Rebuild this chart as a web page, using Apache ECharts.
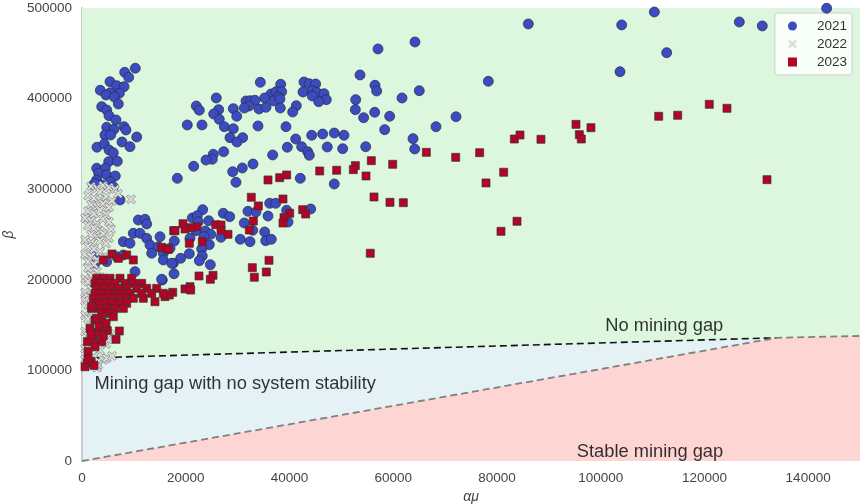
<!DOCTYPE html>
<html><head><meta charset="utf-8">
<script src="https://cdn.jsdelivr.net/npm/echarts@6/dist/echarts.min.js"></script>
<style>html,body{margin:0;padding:0;background:#fff}#c{width:860px;height:504px}</style>
</head><body><div id="c"></div>
<script>
// ---------- data ----------
const xTicks = [0, 20000, 40000, 60000, 80000, 100000, 120000, 140000];
const yTicks = [0, 100000, 200000, 300000, 400000, 500000];
const seriesNames = ['2021', '2022', '2023'];

// 2021 (circles)
const data2021 = [
  [86050,482400],[104050,481300],[110350,495600],[112730,450700],[103730,429700],[126730,484600],[131160,480200],[143570,499700],
  [78340,419100],[64200,462500],[57070,454800],[53600,426100],[56490,414700],[56810,408400],[52770,398800],[52700,387800],
  [54300,378900],[56430,384900],[59320,380500],[61700,400700],[65030,408700],[58360,365700],[68250,369000],[72110,380000],
  [50510,359500],[50260,344700],[54700,346900],[63820,355800],[64150,344400],
  [34380,418000],[38310,415800],[36440,405100],[37400,407600],[38500,407600],[37850,402100],[36950,397400],[38170,399600],
  [35220,400700],[31620,397400],[32450,397700],[33350,398100],[32200,391800],[31300,389600],[34130,388500],[35480,390400],
  [38230,389600],[41320,392200],[40620,385200],[42800,418300],[43820,416400],[45050,416100],[44400,408700],[45250,406900],
  [42610,407300],[44400,402900],[46660,405400],[47100,398800],[45640,396600],[22040,391800],[22620,387100],[25890,400700],
  [26350,387800],[25390,383000],[26470,377100],[29170,388900],[29830,380500],[20300,370900],[23140,370900],[27430,369000],
  [29170,366800],[33930,369800],[39330,369000],[28530,356900],[30980,356900],[29880,352100],[41200,355400],[44290,359500],
  [46400,360900],[48640,362000],[39580,346300],[42350,346900],[43510,341400],[43830,337400],[47290,346600],[36760,337800],
  [27310,341400],[25310,338500],[25120,333000],[23910,332200],[21530,325300],[18380,312000],[29050,319300],[30910,323400],
  [32970,327800],[29690,307600],[42090,312000],[48640,305800],
  [23270,277400],[21270,268200],[22230,270800],[22420,264100],[24430,265200],[27240,273400],[28470,269700],[21980,254200],
  [23770,253900],[24810,250200],[23520,247600],[20820,245800],[24540,238800],[23080,234000],[20690,228800],[23190,226300],
  [22620,221100],[24740,216700],[19030,223700],[17800,242800],[17610,218200],[15680,229300],[17740,206700],[15480,199800],
  [26800,246900],[30520,244700],[32390,242100],[31290,262700],[32000,275600],[33550,274900],[35860,270400],[36190,284400],
  [37340,284400],[32910,254600],[35220,252800],[35420,243200],[36500,244700],[39460,276700],[39720,263800],[44090,278200],
  [10280,433500],[8230,429000],[9000,423500],[5400,418700],[3530,409200],[6690,414300],[8100,413200],[7200,405900],
  [5460,406500],[4630,404000],[6230,401800],[7000,394100],[3800,391100],[4760,387400],[5210,381100],[6560,376400],
  [8100,369000],[8480,365400],[4760,368300],[6170,366100],[4430,359800],[5530,359800],[10550,357600],[7710,352100],
  [9250,346900],[2890,346300],[4300,349900],[5210,343300],[6030,340300],[5150,330400],[6810,330800],[2830,323100],
  [4490,323100],[3220,317600],[4760,315700],[6420,314600],[2830,310200],[5400,308300],[2190,304600],[3800,304600],
  [7330,288100],[2510,306500],[6030,302800],[10860,266000],[12150,266800],[12470,261600],[9890,251300],[11180,251300],
  [12470,245800],[7970,242100],[9250,240300],[13110,238400],[15040,247600],[14710,236500],[16970,234800],[13440,229300],
  [15680,221900],[17290,218200],[2510,218200],[4760,220000],[6690,225500],[10220,209000],[15360,200600],[2830,227400],
  [7970,227400]
];

// 2022 (crosses)
const data2022 = [
  [1740,303000],[2890,301000],[4050,304000],[5210,302000],[6360,300000],[3470,297000],
  [1160,293000],[2310,290000],[3470,288000],[4630,292000],[5780,287000],[1740,283000],[2890,281000],[4050,284000],[5210,280000],[6940,295000],
  [1160,276000],[2310,273000],[3470,277000],[4630,272000],[580,268000],[1740,265000],[2890,262000],[4050,267000],[5210,264000],[1160,260000],
  [2310,257000],[3470,254000],[1740,250000],[2890,247000],[4050,251000],[580,244000],[1740,241000],[3470,243000],[5210,246000],[4630,240000],
  [1160,237000],[2310,234000],[3470,231000],[580,228000],[1740,226000],[2890,222000],[4050,225000],[1160,220000],
  [2310,217000],[1160,213000],[2890,209000],[1740,205000],[580,201000],[3470,203000],
  [1160,198000],[2310,195000],[1740,190000],[580,186000],[1160,181000],
  [580,177000],[1160,172000],[1740,166000],[580,161000],
  [1160,157000],[2310,153000],[1740,148000],[580,143000],[4630,156000],
  [1160,138000],[2890,135000],[4630,129000],[5070,134000],[1740,127000],[580,124000],[3470,122000],
  [1160,118000],[2310,115000],[4110,111500],[4760,113400],[3140,106000],[1740,109000],[2890,103000],[580,112000],[5780,116000],
  [9450,288900],[5590,255800],[6360,140000]
];

// 2023 (squares)
const data2023 = [
  [66390,340700],[72050,335200],[76670,340300],[83350,355400],[84450,359800],[52700,326000],[52310,321600],[55780,331500],
  [59900,327500],[54760,314600],[81300,318700],[77890,306900],[56300,291400],[59380,285500],[61950,285100],[55580,229300],
  [80780,253500],[83870,264600],[95240,371600],[98130,367900],[111190,380500],[114850,381600],[120940,393700],[124350,389300],
  [88490,355100],[95890,360200],[96270,355400],[132070,310500],
  [35860,310200],[38110,312700],[39460,315700],[45830,320100],[49100,320900],
  [32640,291100],[34000,281500],[38750,289200],[40040,273400],[38950,268600],[38750,262700],[42550,277400],[43120,272600],
  [33030,264900],[32260,255000],[28150,250200],[25780,260800],[26800,260500],[26800,254600],[22170,258600],[21020,257500],
  [19860,256100],[19470,261900],[17680,254200],[20690,240300],[23190,242100],[16450,234000],[15360,235900],[36050,221500],
  [32840,213400],[35540,208600],[33220,202800],[25260,205000],[24740,200600],[22560,204200],[19860,189900],[20820,192400],
  [20960,188700],[17490,186200],[16000,181400],[16830,183200],
  [5780,228500],[4110,221900],[7000,223700],[8610,227400],[9890,221900],[16640,233700],[17930,254200],
  [2830,201700],[4110,201700],[5400,201700],[7330,201700],[9570,201700],
  [2510,196100],[3470,196100],[4760,196100],[6360,196100],[8290,196100],[9890,196100],[11500,196100],
  [2830,190600],[4110,190600],[5730,190600],[7000,190600],[8610,190600],[10550,190600],[12470,190600],[14400,190600],
  [2510,185100],[3800,185100],[5070,185100],[6690,185100],[7650,185100],[9250,185100],[11500,185100],[13440,185100],[15680,185100],
  [2190,179600],[3470,179600],[4760,179600],[6040,179600],[7330,179600],[8610,179600],[9890,179600],[11820,179600],
  [2830,174100],[4430,174100],[5730,174100],[7330,174100],[8610,174100],
  [1870,168500],[3470,168500],[4760,168500],[6360,168500],[7970,168500],
  [3800,163000],[5400,163000],[6040,159300],[14070,175800],
  [3280,142700],[4880,143800],[3800,131700],[2190,133600],[2830,141600],[1540,146500],[2510,155600],[3800,153800],
  [4240,148200],[3340,149000],[2830,157500],[1870,170300],[7200,143500],[6560,134300],[1030,131700],
  [1740,139000],[4110,138000],[2510,126000],[1160,121000],[4630,152000],
  [1030,107800],[580,104000],[1740,110000],[2310,105500],[1160,113000]
];

// region boundaries
const stableBoundary = [[0,0],[134000,136000],[150000,138000]];     // grey dashed
const noGapBoundary = [[0,113500],[134000,136000]];                 // black dashed
const greenBoundary = [[0,113500],[134000,136000],[150000,138000]];

// annotations: [text, x, y]
const annotations = [
  ['No mining gap', 100900, 149000],
  ['Mining gap with no system stability', 2400, 85000],
  ['Stable mining gap', 95400, 9900]
];

// ---------- chart ----------
const X_PATH = 'path://M0,2L2,0L5,3L8,0L10,2L7,5L10,8L8,10L5,7L2,10L0,8L3,5Z';
const FONT = '"Liberation Sans", Arial, sans-serif';
const chart = echarts.init(document.getElementById('c'), null, {renderer: 'canvas'});

chart.setOption({
  animation: false,
  backgroundColor: '#ffffff',
  textStyle: {fontFamily: FONT},
  grid: {left: 82, right: 0, top: 8, bottom: 43, containLabel: false, outerBoundsMode: 'none',
         show: true, backgroundColor: '#e4f2f6', borderWidth: 0},
  xAxis: {
    type: 'value', min: 0, max: 150000, interval: 20000,
    name: 'αμ', nameLocation: 'middle', nameGap: 26,
    nameTextStyle: {fontSize: 14, fontStyle: 'italic', color: '#444', fontFamily: FONT},
    axisLine: {show: false}, axisTick: {show: false}, splitLine: {show: false},
    axisLabel: {color: '#444', fontSize: 13.5, margin: 10, showMaxLabel: false,
      formatter: v => xTicks.includes(v) ? String(v) : ''}
  },
  yAxis: {
    type: 'value', min: 0, max: 500000, interval: 100000,
    name: 'β', nameLocation: 'middle', nameGap: 65, nameRotate: 90,
    nameTextStyle: {fontSize: 14, fontStyle: 'italic', color: '#444', fontFamily: FONT},
    axisLine: {show: true, lineStyle: {color: '#cccccc', width: 2}}, axisTick: {show: false}, splitLine: {show: false},
    axisLabel: {color: '#444', fontSize: 13.5, margin: 10, formatter: v => yTicks.includes(v) ? String(v) : ''}
  },
  legend: {
    data: [
      {name: seriesNames[0], icon: 'circle', itemStyle: {borderWidth: 0}},
      {name: seriesNames[1], icon: X_PATH, itemStyle: {borderWidth: 0}},
      {name: seriesNames[2], icon: 'rect', itemStyle: {borderWidth: 0}}
    ],
    orient: 'vertical', right: 8, top: 13, itemWidth: 9, itemHeight: 9, itemGap: 4,
    padding: [6, 5, 6, 13],
    backgroundColor: 'rgba(255,255,255,0.8)', borderColor: '#d0d0d0', borderWidth: 1, borderRadius: 3,
    textStyle: {fontSize: 13.5, color: '#333', padding: [0, 0, 0, 15], fontFamily: FONT}
  },
  series: [
    {type: 'line', data: stableBoundary, symbol: 'none', silent: true, z: 1,
     lineStyle: {opacity: 0}, areaStyle: {color: '#fdd6d4', opacity: 1, origin: 'start'}},
    {type: 'line', data: greenBoundary, symbol: 'none', silent: true, z: 1,
     lineStyle: {opacity: 0}, areaStyle: {color: '#dcf7dd', opacity: 1, origin: 'end'}},
    {type: 'line', data: noGapBoundary, symbol: 'none', silent: true, z: 2,
     lineStyle: {color: '#111', width: 1.6, type: [7, 4]}},
    {type: 'line', data: stableBoundary, symbol: 'none', silent: true, z: 2,
     lineStyle: {color: '#808080', width: 1.8, type: [7, 4]}},
    {type: 'scatter', name: 'annotations', data: annotations.map(a => ({value: [a[1], a[2]], name: a[0]})),
     symbolSize: 0, silent: true, z: 3,
     label: {show: true, position: 'right', distance: 0, formatter: p => p.name, color: '#000', fontSize: 18.3, fontFamily: FONT}},
    {type: 'scatter', name: seriesNames[0], data: data2021, symbol: 'circle', symbolSize: 10, z: 5,
     itemStyle: {color: '#3b4cc0', opacity: 1, borderColor: '#2a2a40', borderWidth: 0.7}},
    {type: 'scatter', name: seriesNames[1], data: data2022, symbol: X_PATH, symbolSize: 9, z: 6,
     itemStyle: {color: '#dddddd', opacity: 1, borderColor: '#666', borderWidth: 0.6}},
    {type: 'scatter', name: seriesNames[2], data: data2023, symbol: 'rect', symbolSize: 8, z: 7,
     itemStyle: {color: '#b40426', opacity: 1, borderColor: '#333', borderWidth: 0.7}}
  ]
});
</script></body></html>
